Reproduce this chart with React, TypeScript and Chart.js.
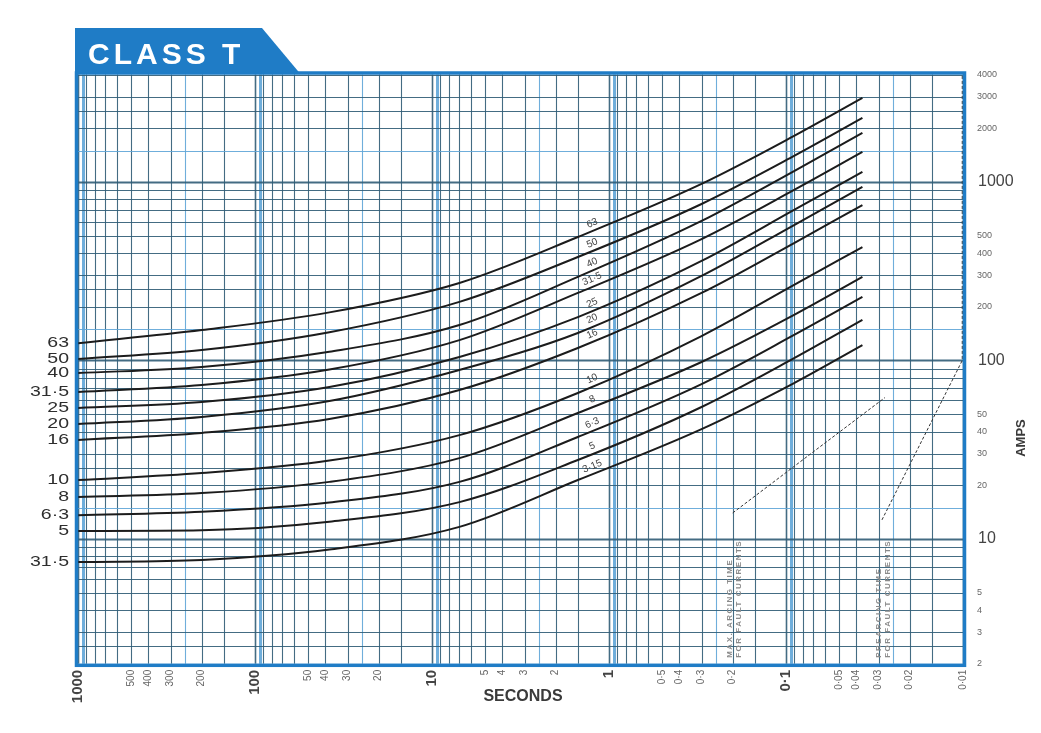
import React, { useEffect, useRef } from "react";
import { Chart, registerables } from "chart.js";

Chart.register(...registerables);

// Time axis (seconds) – sample times along every characteristic
const TIMES = [1000, 200, 38, 7, 1.5, 0.3, 0.09, 0.037];

// Pre-arcing current (amps) of each fuse rating at the sample times above
const A63 = [125, 148, 186, 272, 492, 975, 1810, 2955];
const A50 = [102, 114.5, 144, 213, 380, 753, 1399, 2283];
const A40 = [85, 92, 112, 158, 294, 605, 1152, 1882];
const A31_5 = [66.6, 72.9, 89, 130, 239, 479, 902, 1473];
const A25 = [54.2, 58.5, 71, 104.6, 175, 361, 697, 1138];
const A20 = [44.1, 48.3, 59.3, 88.5, 142.6, 297.5, 574, 938];
const A16 = [35.9, 39.3, 47, 68.3, 117.5, 239, 455, 743];
const A10 = [21.4, 23.4, 27.5, 38.2, 65.8, 137, 265, 432];
const A8 = [17.2, 18.1, 20.9, 28.4, 50.8, 98.1, 180, 294];
const A6_3 = [13.6, 14.2, 16.0, 20.9, 37.3, 73.8, 139, 227];
const A5 = [11.1, 11.2, 12.5, 16.1, 27.7, 54.9, 103, 169];
const A3_15 = [7.43, 7.63, 8.73, 11.7, 21.4, 41.3, 74.8, 122];

const SERIES = [A63, A50, A40, A31_5, A25, A20, A16, A10, A8, A6_3, A5, A3_15];
const RATINGS = ["63", "50", "40", "31·5", "25", "20", "16", "10", "8", "6·3", "5", "3·15"];
const LEFT_LABELS = ["63", "50", "40", "31·5", "25", "20", "16", "10", "8", "6·3", "5", "31·5"];
const TAG_TIME = 1.2; // where the rating tags sit along the curves

// Axis ticks
const TIME_TICKS = [1000, 500, 400, 300, 200, 100, 50, 40, 30, 20, 10, 5, 4, 3, 2, 1, 0.5, 0.4, 0.3, 0.2, 0.1, 0.05, 0.04, 0.03, 0.02, 0.01];
const TIME_TICK_LABELS = ["1000", "500", "400", "300", "200", "100", "50", "40", "30", "20", "10", "5", "4", "3", "2", "1", "0·5", "0·4", "0·3", "0·2", "0·1", "0·05", "0·04", "0·03", "0·02", "0·01"];
const TIME_MAJOR = [1000, 100, 10, 1, 0.1];
const AMP_TICKS = [4000, 3000, 2000, 1000, 500, 400, 300, 200, 100, 50, 40, 30, 20, 10, 5, 4, 3, 2];
const AMP_MAJOR = [1000, 100, 10];
const GRID_STEPS = [1, 1.5, 2, 2.5, 3, 4, 5, 6, 7, 8, 9];

// Arcing / pre-arcing reference leaders
const ARC_T = [0.2, 0.0276];
const ARC_A = [14, 62];
const PRE_T = [0.0287, 0.0101, 0.0101];
const PRE_A = [12.8, 100, 4000];
const ARC_NOTE = ["MAX. ARCING TIME", "FOR FAULT CURRENTS"];
const PRE_NOTE = ["PREARCING TIME", "FOR FAULT CURRENTS"];

const FONT = "'Liberation Sans', Arial, sans-serif";
const BLUE = "#1f7cc6";
const RULE = "rgba(48,92,118,0.9)";
const RULE_LIGHT = "rgba(95,165,215,0.9)";

function ampAt(series: number[], t: number): number {
  const lt = Math.log10(t);
  for (let i = 0; i < TIMES.length - 1; i++) {
    const t0 = Math.log10(TIMES[i]);
    const t1 = Math.log10(TIMES[i + 1]);
    if (lt <= t0 && lt >= t1) {
      const f = (lt - t0) / (t1 - t0);
      return Math.pow(10, Math.log10(series[i]) + f * (Math.log10(series[i + 1]) - Math.log10(series[i])));
    }
  }
  return series[series.length - 1];
}

const paperPlugin = {
  id: "logPaper",
  beforeDatasetsDraw(chart: any) {
    const { ctx, chartArea: a, scales } = chart;
    const x = scales.x;
    const y = scales.y;
    ctx.save();
    ctx.fillStyle = "#ffffff";
    ctx.fillRect(a.left, a.top, a.right - a.left, a.bottom - a.top);

    // vertical rulings
    for (let e = -2; e <= 3; e++) {
      for (const m of GRID_STEPS) {
        const v = m * Math.pow(10, e);
        if (v < 0.0099 || v > 1001) continue;
        const px = Math.round(x.getPixelForValue(v)) + 0.5;
        if (m === 1 && e > -2) {
          ctx.strokeStyle = RULE_LIGHT;
          ctx.lineWidth = 3;
          ctx.beginPath();
          ctx.moveTo(px + 5, a.top);
          ctx.lineTo(px + 5, a.bottom);
          ctx.stroke();
        }
        ctx.strokeStyle = m === 2.5 ? RULE_LIGHT : RULE;
        ctx.lineWidth = m === 1 ? 1.6 : 1.1;
        ctx.beginPath();
        ctx.moveTo(px, a.top);
        ctx.lineTo(px, a.bottom);
        ctx.stroke();
      }
    }

    // horizontal rulings
    for (let e = 0; e <= 3; e++) {
      for (const m of GRID_STEPS) {
        const v = m * Math.pow(10, e);
        if (v < 1.99 || v > 4001) continue;
        const py = Math.round(y.getPixelForValue(v)) + 0.5;
        ctx.strokeStyle = m === 1.5 ? RULE_LIGHT : RULE;
        ctx.lineWidth = m === 1 ? 1.8 : 1.1;
        ctx.beginPath();
        ctx.moveTo(a.left, py);
        ctx.lineTo(a.right, py);
        ctx.stroke();
      }
    }
    ctx.restore();
  },
  afterDatasetsDraw(chart: any) {
    const { ctx, chartArea: a, scales } = chart;
    const x = scales.x;
    const y = scales.y;
    ctx.save();

    // frame
    ctx.strokeStyle = BLUE;
    ctx.lineWidth = 3.5;
    ctx.strokeRect(a.left - 1.5, a.top - 1.5, a.right - a.left + 3, a.bottom - a.top + 3);

    // title tab
    ctx.fillStyle = BLUE;
    ctx.beginPath();
    ctx.moveTo(a.left - 3, 28);
    ctx.lineTo(262, 28);
    ctx.lineTo(300, a.top - 1);
    ctx.lineTo(a.left - 3, a.top - 1);
    ctx.closePath();
    ctx.fill();
    ctx.fillStyle = "#ffffff";
    ctx.font = `bold 30px ${FONT}`;
    (ctx as any).letterSpacing = "4px";
    ctx.textAlign = "left";
    ctx.textBaseline = "alphabetic";
    ctx.fillText("CLASS T", 88, 64);
    (ctx as any).letterSpacing = "0px";

    // amps scale (right)
    ctx.textAlign = "left";
    ctx.textBaseline = "middle";
    AMP_TICKS.forEach((v) => {
      const major = AMP_MAJOR.includes(v);
      ctx.font = major ? `16px ${FONT}` : `9px ${FONT}`;
      ctx.fillStyle = major ? "#444" : "#666";
      ctx.fillText(String(v), a.right + (major ? 15 : 14), y.getPixelForValue(v));
    });

    // seconds scale (bottom, rotated)
    TIME_TICKS.forEach((v, i) => {
      const major = TIME_MAJOR.includes(v);
      ctx.save();
      ctx.translate(x.getPixelForValue(v), a.bottom + 6);
      ctx.rotate(-Math.PI / 2);
      ctx.textAlign = "right";
      ctx.textBaseline = "middle";
      ctx.font = major ? `bold 15px ${FONT}` : `10px ${FONT}`;
      ctx.fillStyle = major ? "#444" : "#666";
      ctx.fillText(TIME_TICK_LABELS[i], 0, 0);
      ctx.restore();
    });

    // axis titles
    ctx.fillStyle = "#3a3a3a";
    ctx.font = `bold 16px ${FONT}`;
    ctx.textAlign = "center";
    ctx.textBaseline = "middle";
    ctx.fillText("SECONDS", 523, 697);
    ctx.save();
    ctx.translate(1021, 438);
    ctx.rotate(-Math.PI / 2);
    ctx.font = `bold 13px ${FONT}`;
    ctx.fillText("AMPS", 0, 0);
    ctx.restore();

    // rating labels on the left, at the start of each curve
    SERIES.forEach((s, i) => {
      ctx.save();
      ctx.translate(a.left - 9, y.getPixelForValue(s[0]));
      ctx.scale(1.3, 1);
      ctx.font = `15px ${FONT}`;
      ctx.fillStyle = "#2e2e2e";
      ctx.textAlign = "right";
      ctx.textBaseline = "middle";
      ctx.fillText(LEFT_LABELS[i], 0, 0);
      ctx.restore();
    });

    // rating tags along the curves
    SERIES.forEach((s, i) => {
      const px = x.getPixelForValue(TAG_TIME);
      const py = y.getPixelForValue(ampAt(s, TAG_TIME));
      const px2 = x.getPixelForValue(TAG_TIME * 0.7);
      const py2 = y.getPixelForValue(ampAt(s, TAG_TIME * 0.7));
      const ang = Math.atan2(py2 - py, px2 - px);
      ctx.save();
      ctx.translate(px, py);
      ctx.rotate(ang);
      ctx.font = `10px ${FONT}`;
      ctx.fillStyle = "#444";
      ctx.textAlign = "center";
      ctx.textBaseline = "bottom";
      ctx.fillText(RATINGS[i], 0, -2);
      ctx.restore();
    });

    // vertical notes
    const note = (lines: string[], t: number) => {
      ctx.save();
      ctx.translate(x.getPixelForValue(t), a.bottom - 6);
      ctx.rotate(-Math.PI / 2);
      ctx.font = `bold 8px ${FONT}`;
      (ctx as any).letterSpacing = "1.5px";
      ctx.fillStyle = "#8a8a8a";
      ctx.textAlign = "left";
      ctx.textBaseline = "middle";
      lines.forEach((l, k) => ctx.fillText(l, 0, -3 + k * 9));
      (ctx as any).letterSpacing = "0px";
      ctx.restore();
    };
    note(ARC_NOTE, ARC_T[0]);
    note(PRE_NOTE, PRE_T[0]);

    ctx.restore();
  },
};

export default function App() {
  const ref = useRef<HTMLCanvasElement | null>(null);

  useEffect(() => {
    if (!ref.current) return;
    const curves = SERIES.map((s, i) => ({
      label: RATINGS[i],
      data: TIMES.map((t, k) => ({ x: t, y: s[k] })),
      borderColor: "#1c1c1c",
      borderWidth: 2,
      pointRadius: 0,
      cubicInterpolationMode: "monotone" as const,
      fill: false,
    }));
    const leaders = [
      {
        label: "arcing",
        data: ARC_T.map((t, k) => ({ x: t, y: ARC_A[k] })),
        borderColor: "#333",
        borderWidth: 1,
        borderDash: [3, 2],
        pointRadius: 0,
        tension: 0,
        fill: false,
      },
      {
        label: "prearcing",
        data: PRE_T.map((t, k) => ({ x: t, y: PRE_A[k] })),
        borderColor: "#333",
        borderWidth: 1,
        borderDash: [3, 2],
        pointRadius: 0,
        tension: 0,
        fill: false,
      },
    ];
    const chart = new Chart(ref.current, {
      type: "line",
      data: { datasets: [...curves, ...leaders] as any },
      options: {
        animation: false,
        responsive: false,
        maintainAspectRatio: false,
        layout: { padding: { left: 78, right: 78, top: 74.5, bottom: 69.2 } },
        plugins: { legend: { display: false }, tooltip: { enabled: false } },
        scales: {
          x: { type: "logarithmic", reverse: true, min: 0.01, max: 1000, display: false },
          y: { type: "logarithmic", min: 2, max: 4000, display: false },
        },
      },
      plugins: [paperPlugin],
    });
    return () => chart.destroy();
  }, []);

  return (
    <div style={{ position: "absolute", left: 0, top: 0, width: 1041, height: 733, background: "#fff" }}>
      <canvas ref={ref} width={1041} height={733} style={{ display: "block" }} />
    </div>
  );
}
